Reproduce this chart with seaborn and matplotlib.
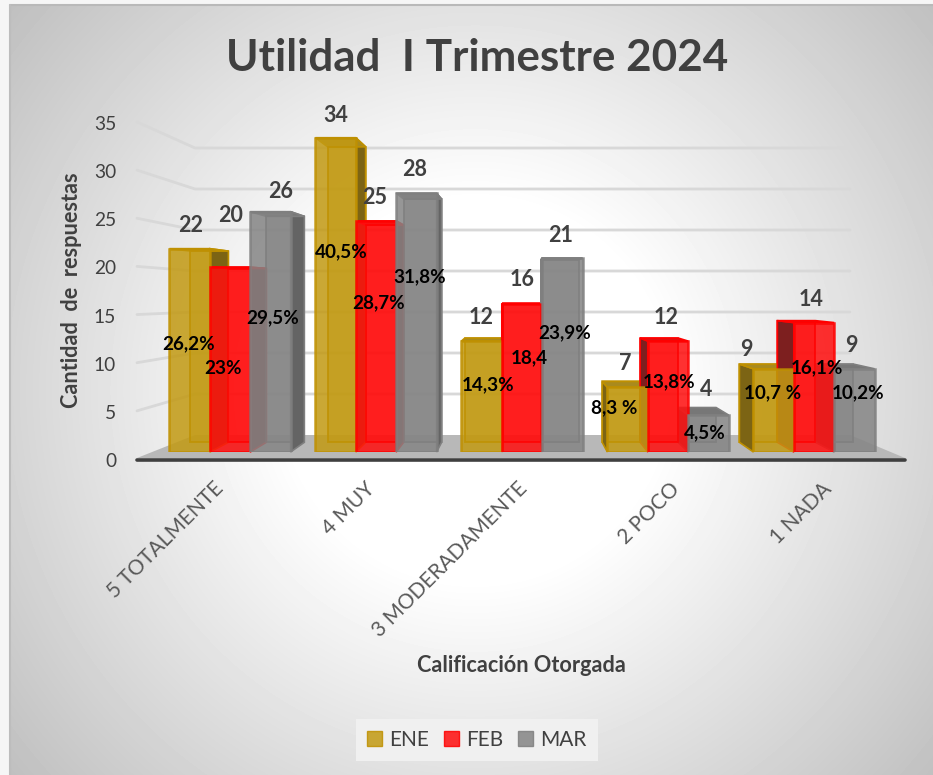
import numpy as np
import pandas as pd
import matplotlib
matplotlib.use('Agg')
import matplotlib.pyplot as plt
from matplotlib.patches import Polygon
from matplotlib.transforms import ScaledTranslation
import seaborn as sns

# chart values
categorias = ['5 TOTALMENTE', '4 MUY', '3 MODERADAMENTE', '2 POCO', '1 NADA']
meses = ['ENE', 'FEB', 'MAR']
ene = [22, 34, 12, 7, 9]
feb = [20, 25, 16, 12, 14]
mar = [26, 28, 21, 4, 9]
pct_ene = ['26,2%', '40,5%', '14,3%', '8,3 %', '10,7 %']
pct_feb = ['23%', '28,7%', '18,4', '13,8%', '16,1%']
pct_mar = ['29,5%', '31,8%', '23,9%', '4,5%', '10,2%']
y_ticks = [0, 5, 10, 15, 20, 25, 30, 35]

# label positions in image pixels, one row per month
pos_val = [[(191, 225), (336, 115), (481, 317), (625, 363), (746, 350)],
           [(231, 216), (375, 198), (522, 280), (666, 317), (811, 299)],
           [(281, 192), (415, 170), (561, 235), (706, 390), (851, 345)]]
pos_pct = [[(189, 344), (341, 252), (488, 385), (614, 408), (773, 393)],
           [(223, 369), (379, 303), (529, 358), (669, 382), (817, 368)],
           [(273, 318), (420, 277), (565, 333), (705, 433), (858, 393)]]

W, H = 933, 775
colores = ['#c29a14', '#ff0f0f', '#858585']
bordes = ['#bf9000', '#ff0000', '#7f7f7f']
lados = ['#7c6414', '#7d1f1f', '#646464']
techos = ['#a98a1e', '#e01010', '#777777']

sns.set_style('white')
plt.rcParams['font.family'] = ['Lato', 'DejaVu Sans']

fig = plt.figure(figsize=(W / 100, H / 100), dpi=100, facecolor='#f6f6f6')


def px_axes(l, t, r, b):
    return fig.add_axes([l / W, 1 - b / H, (r - l) / W, (b - t) / H])


# pixel canvas behind everything: gradient panel, walls, floor
bg = px_axes(0, 0, W, H)
bg.axis('off')
xx, yy = np.meshgrid(np.arange(10, W), np.arange(5, H))
r = np.hypot(xx - 475, yy - 390)
grad = 255 - 63 * np.clip((r - 190) / 410, 0, 1)
bg.imshow(grad, cmap='gray', vmin=0, vmax=255, extent=(10, W, H, 5), aspect='auto', zorder=0)
bg.set_xlim(0, W)
bg.set_ylim(H, 0)
bg.plot([10, W], [5, 5], color='#b9b9b9', lw=1.5, zorder=1)
bg.plot([10, 10], [5, H], color='#bdbdbd', lw=1.5, zorder=1)

for v in y_ticks[1:]:
    bg.plot([137, 195, 850], [459 - 9.63 * v, 435 - 8.2 * v, 435 - 8.2 * v],
            color='#d8d8d8', lw=2, zorder=2, solid_joinstyle='round')
bg.add_patch(Polygon([(137, 458), (195, 435), (850, 435), (905, 458)],
                     facecolor='#b8b8b8', edgecolor='none', zorder=2))
bg.plot([137, 905], [459.5, 459.5], color='#3f3f3f', lw=2.6, zorder=3)

# y axis only carries the ticks, the bars sit on their own scale because of the perspective
ax_y = px_axes(137, 123, 905, 460)
ax_y.patch.set_alpha(0)
ax_y.set_ylim(0, 35)
ax_y.set_yticks(y_ticks)
ax_y.set_xticks([])
ax_y.tick_params(axis='y', length=0, pad=15, labelsize=13.8, labelcolor='#404040')
sns.despine(ax=ax_y, left=True, bottom=True)

ax = px_axes(157, 110, 887, 452)
ax.patch.set_alpha(0)
df = pd.DataFrame({'calif': categorias * 3,
                   'n': ene + feb + mar,
                   'mes': [m for m in meses for _ in categorias]})
sns.barplot(data=df, x='calif', y='n', hue='mes', order=categorias, hue_order=meses,
            palette=colores, saturation=1, width=0.83, gap=0, ax=ax, zorder=5)
ax.set_ylim(0, 37)
ax.set_xlim(-0.5, 4.5)
ax.set_yticks([])
ax.set_xlabel('')
ax.set_ylabel('')
sns.despine(ax=ax, left=True, bottom=True)
ax.tick_params(axis='x', length=0, pad=19, labelsize=15, labelcolor='#595959')
# the front axis is wider than the bars, so labels spread out a bit more than the groups
for n, lab in enumerate(ax.get_xticklabels()):
    lab.set_rotation(45)
    lab.set_ha('right')
    lab.set_rotation_mode('anchor')
    desplaza = ScaledTranslation((-17 + 6 * n) / 100, 0, fig.dpi_scale_trans)
    lab.set_transform(lab.get_transform() + desplaza)

# fake 3D: push each bar corner towards the vanishing point
VX, VY, K = 520, 290, 0.06


def fondo(p):
    return (p[0] + K * (VX - p[0]), p[1] + K * (VY - p[1]))


a_px = ax.transData + bg.transData.inverted()
for i, cont in enumerate(ax.containers):
    for bar in cont:
        bar.set_alpha(0.86)
        bar.set_edgecolor(bordes[i])
        bar.set_linewidth(1.8)
        bar.set_zorder(6 + i * 2)
        x0, y0 = a_px.transform((bar.get_x(), 0))
        x1, y1 = a_px.transform((bar.get_x() + bar.get_width(), bar.get_height()))
        fl, fr, tl, tr = (x0, y0), (x1, y0), (x0, y1), (x1, y1)
        bl, br, btl, btr = fondo(fl), fondo(fr), fondo(tl), fondo(tr)
        # back face, then the visible side and the top
        ax.add_patch(Polygon([bl, br, btr, btl], closed=True, facecolor=colores[i], alpha=0.55,
                             edgecolor=bordes[i], lw=1.4, zorder=3, transform=bg.transData, clip_on=False))
        if x1 < VX:
            lado = [fr, br, btr, tr]
        else:
            lado = [fl, bl, btl, tl]
        ax.add_patch(Polygon(lado, closed=True, facecolor=lados[i], edgecolor=bordes[i], lw=1.2,
                             zorder=4, transform=bg.transData, clip_on=False))
        ax.add_patch(Polygon([tl, tr, btr, btl], closed=True, facecolor=techos[i], edgecolor=bordes[i],
                             lw=1.2, zorder=4, transform=bg.transData, clip_on=False))
        # back edges show through the glassy front, only inside this bar
        borde = Polygon([bl, br, btr, btl], closed=True, facecolor='none', edgecolor=bordes[i],
                        lw=1.3, alpha=0.7, zorder=7 + i * 2, transform=bg.transData)
        ax.add_patch(borde)
        borde.set_transform(bg.transData)
        borde.set_clip_path(bar)

# legend
handles, labels = ax.get_legend_handles_labels()
for h, bc in zip(handles, bordes):
    h.set_edgecolor(bc)
    h.set_alpha(0.86)
ax.legend(handles, labels, ncol=3, loc='center', bbox_to_anchor=(477 / W, 1 - 740 / H),
          bbox_transform=fig.transFigure, frameon=True, facecolor='#f0f0f0', edgecolor='none', framealpha=1,
          fancybox=False, fontsize=15, handlelength=0.72, handleheight=0.72, handletextpad=0.35,
          columnspacing=0.7, borderpad=0.55, labelcolor='#404040', borderaxespad=0)

# texts go on a top layer in pixel coordinates
top = px_axes(0, 0, W, H)
top.set_xlim(0, W)
top.set_ylim(H, 0)
top.axis('off')
for valores, pcts, pv, pp in zip([ene, feb, mar], [pct_ene, pct_feb, pct_mar], pos_val, pos_pct):
    for v, t, a, b in zip(valores, pcts, pv, pp):
        top.text(a[0], a[1], str(v), ha='center', va='center', fontsize=15.5, fontweight='bold', color='#404040')
        top.text(b[0], b[1], t, ha='center', va='center', fontsize=13.6, fontweight='bold', color='#000000')

top.text(477, 58, 'Utilidad  I Trimestre 2024', ha='center', va='center', fontsize=31.7,
         fontweight='bold', color='#404040')
top.text(71, 290, 'Cantidad  de  respuestas', ha='center', va='center', rotation=90, fontsize=15.6,
         fontweight='bold', color='#404040')
top.text(521, 666, 'Calificación Otorgada', ha='center', va='center', fontsize=15.6,
         fontweight='bold', color='#404040')

fig.savefig('out.png', dpi=100)
